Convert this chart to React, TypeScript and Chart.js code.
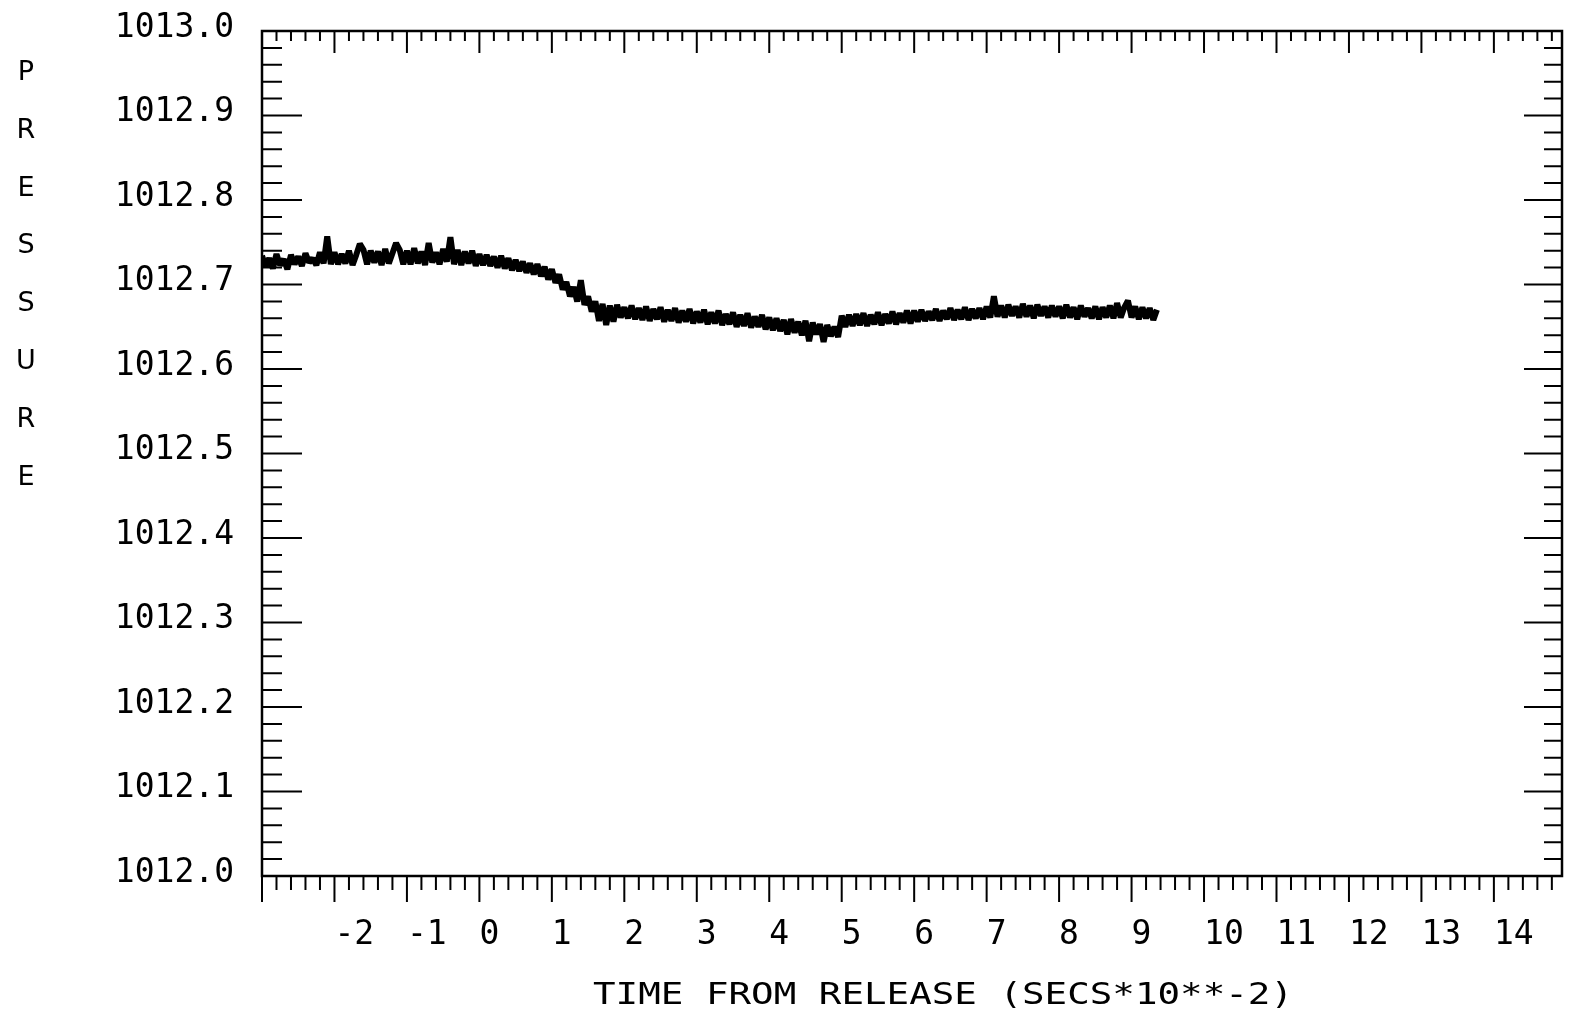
import { useEffect, useRef } from 'react';
import { Chart, registerables } from 'chart.js';

Chart.register(...registerables);

// Sampling of the pressure record: first sample time and spacing (units of 10^-2 s)
const T_START = -3.0;
const T_STEP = 0.05;

// Pressure readings, one per sample
const PRESSURE = [
  // -3.00 .. -2.05
  1012.734, 1012.721, 1012.731, 1012.719, 1012.736, 1012.723, 1012.730, 1012.718, 1012.735, 1012.724,
  1012.733, 1012.722, 1012.737, 1012.726, 1012.731, 1012.723, 1012.738, 1012.725, 1012.757, 1012.724,
  // -2.00 .. -1.05
  1012.738, 1012.724, 1012.736, 1012.725, 1012.740, 1012.723, 1012.735, 1012.748, 1012.741, 1012.724,
  1012.740, 1012.726, 1012.739, 1012.723, 1012.742, 1012.725, 1012.737, 1012.749, 1012.741, 1012.724,
  // -1.00 .. -0.05
  1012.740, 1012.724, 1012.743, 1012.725, 1012.739, 1012.723, 1012.749, 1012.726, 1012.738, 1012.724,
  1012.742, 1012.727, 1012.756, 1012.724, 1012.741, 1012.723, 1012.739, 1012.725, 1012.740, 1012.722,
  // 0.00 .. 0.95
  1012.736, 1012.723, 1012.735, 1012.722, 1012.733, 1012.720, 1012.734, 1012.719, 1012.731, 1012.717,
  1012.729, 1012.716, 1012.727, 1012.714, 1012.725, 1012.712, 1012.724, 1012.710, 1012.721, 1012.706,
  // 1.00 .. 1.95
  1012.718, 1012.702, 1012.712, 1012.694, 1012.703, 1012.686, 1012.697, 1012.680, 1012.705, 1012.676,
  1012.686, 1012.668, 1012.680, 1012.657, 1012.677, 1012.652, 1012.675, 1012.656, 1012.676, 1012.661,
  // 2.00 .. 2.95
  1012.673, 1012.660, 1012.675, 1012.659, 1012.672, 1012.658, 1012.674, 1012.657, 1012.671, 1012.659,
  1012.673, 1012.656, 1012.670, 1012.657, 1012.672, 1012.655, 1012.669, 1012.656, 1012.671, 1012.654,
  // 3.00 .. 3.95
  1012.668, 1012.655, 1012.670, 1012.653, 1012.667, 1012.654, 1012.669, 1012.652, 1012.665, 1012.653,
  1012.667, 1012.650, 1012.664, 1012.651, 1012.666, 1012.649, 1012.662, 1012.650, 1012.664, 1012.647,
  // 4.00 .. 4.95
  1012.661, 1012.646, 1012.660, 1012.645, 1012.658, 1012.641, 1012.659, 1012.643, 1012.656, 1012.640,
  1012.657, 1012.633, 1012.655, 1012.641, 1012.653, 1012.632, 1012.652, 1012.639, 1012.650, 1012.638,
  // 5.00 .. 5.95
  1012.663, 1012.650, 1012.664, 1012.651, 1012.665, 1012.652, 1012.666, 1012.651, 1012.664, 1012.653,
  1012.667, 1012.652, 1012.665, 1012.654, 1012.668, 1012.653, 1012.666, 1012.655, 1012.669, 1012.654,
  // 6.00 .. 6.95
  1012.669, 1012.656, 1012.670, 1012.657, 1012.668, 1012.658, 1012.671, 1012.657, 1012.669, 1012.659,
  1012.672, 1012.658, 1012.670, 1012.659, 1012.673, 1012.658, 1012.671, 1012.660, 1012.672, 1012.659,
  // 7.00 .. 7.95
  1012.674, 1012.661, 1012.686, 1012.662, 1012.675, 1012.661, 1012.676, 1012.663, 1012.674, 1012.661,
  1012.677, 1012.662, 1012.675, 1012.660, 1012.676, 1012.663, 1012.674, 1012.661, 1012.675, 1012.662,
  // 8.00 .. 8.95
  1012.674, 1012.660, 1012.676, 1012.661, 1012.673, 1012.659, 1012.675, 1012.662, 1012.672, 1012.660,
  1012.674, 1012.659, 1012.673, 1012.661, 1012.675, 1012.660, 1012.678, 1012.661, 1012.673, 1012.681,
  // 9.00 .. 9.35
  1012.661, 1012.674, 1012.659, 1012.673, 1012.660, 1012.672, 1012.658, 1012.670,
];

// Tick labels
const X_TICK_LABELS = ['-2', '-1', '0', '1', '2', '3', '4', '5', '6', '7', '8', '9', '10', '11', '12', '13', '14'];
const Y_TICK_LABELS = [
  '1012.0', '1012.1', '1012.2', '1012.3', '1012.4', '1012.5',
  '1012.6', '1012.7', '1012.8', '1012.9', '1013.0',
];

// Axis extents and tick-mark spacing
const X_MIN = -3;
const X_MAX = 14.94;
const X_MAJOR = 1;
const X_MINOR = 0.2;
const Y_MIN = 1012.0;
const Y_MAX = 1013.0;
const Y_MAJOR = 0.1;
const Y_MINOR = 0.02;

const X_TITLE = 'TIME FROM RELEASE (SECS*10**-2)';
const Y_TITLE = 'PRESSURE';

const MONO = '"DejaVu Sans Mono", monospace';
const INK = '#000';

// Plotter-style box with inward ticks on left/right/top and outward ticks below,
// plus the axis captions.
const plotterFrame = {
  id: 'plotterFrame',
  afterDraw(chart: any) {
    const { ctx, chartArea, scales } = chart;
    const { left, right, top, bottom } = chartArea;
    const xs = scales.x;
    const ys = scales.y;
    ctx.save();
    ctx.strokeStyle = INK;
    ctx.lineCap = 'butt';
    ctx.lineWidth = 2;
    ctx.beginPath();
    const perMajorX = Math.round(X_MAJOR / X_MINOR);
    const kx0 = Math.ceil(X_MIN / X_MINOR - 1e-9);
    const kx1 = Math.floor(X_MAX / X_MINOR + 1e-9);
    for (let k = kx0; k <= kx1; k++) {
      const px = xs.getPixelForValue(k * X_MINOR);
      const major = k % perMajorX === 0;
      ctx.moveTo(px, bottom);
      ctx.lineTo(px, bottom + (major ? 26 : 14));
      ctx.moveTo(px, top);
      ctx.lineTo(px, top + (major ? 22 : 10));
    }
    const perMajorY = Math.round(Y_MAJOR / Y_MINOR);
    const ny = Math.round((Y_MAX - Y_MIN) / Y_MINOR);
    for (let k = 0; k <= ny; k++) {
      const py = ys.getPixelForValue(Y_MIN + k * Y_MINOR);
      const major = k % perMajorY === 0;
      ctx.moveTo(left, py);
      ctx.lineTo(left + (major ? 40 : 20), py);
      ctx.moveTo(right, py);
      ctx.lineTo(right - (major ? 38 : 18), py);
    }
    ctx.stroke();
    ctx.lineWidth = 2.5;
    ctx.strokeRect(left, top, right - left, bottom - top);

    // x caption, drawn in a wide plotter lettering
    ctx.fillStyle = INK;
    ctx.font = `31px ${MONO}`;
    ctx.textAlign = 'center';
    ctx.textBaseline = 'middle';
    const w = ctx.measureText(X_TITLE).width;
    ctx.save();
    ctx.translate(943, 996);
    ctx.scale(700 / w, 1);
    ctx.fillText(X_TITLE, 0, 0);
    ctx.restore();

    // y caption, one letter per row
    ctx.font = `27px "DejaVu Sans", sans-serif`;
    Y_TITLE.split('').forEach((ch, i) => {
      ctx.fillText(ch, 26, 73 + i * 57.8);
    });
    ctx.restore();
  },
};

export default function App() {
  const canvasRef = useRef<HTMLCanvasElement>(null);

  useEffect(() => {
    const canvas = canvasRef.current;
    if (!canvas) return;
    const points = PRESSURE.map((p, i) => ({ x: T_START + i * T_STEP, y: p }));
    const chart = new Chart(canvas, {
      type: 'line',
      data: {
        datasets: [
          {
            label: 'Pressure',
            data: points,
            borderColor: INK,
            borderWidth: 6,
            borderJoinStyle: 'bevel',
            pointRadius: 0,
            tension: 0,
            fill: false,
          },
        ],
      },
      options: {
        responsive: false,
        devicePixelRatio: 1,
        animation: false,
        layout: { padding: { top: 31, right: 12, left: 0, bottom: 0 } },
        plugins: {
          legend: { display: false },
          tooltip: { enabled: false },
        },
        scales: {
          x: {
            type: 'linear',
            min: X_MIN,
            max: X_MAX,
            afterBuildTicks: (s: any) => {
              s.ticks = X_TICK_LABELS.map((t) => ({ value: Number(t) }));
            },
            afterFit: (s: any) => {
              s.height = 141;
              s.paddingLeft = 0;
              s.paddingRight = 0;
            },
            grid: { display: false, drawTicks: false },
            border: { display: false },
            ticks: {
              autoSkip: false,
              maxRotation: 0,
              align: 'start',
              padding: 40,
              color: INK,
              font: { family: MONO, size: 33 },
              callback: (v: any) => String(v),
            },
          },
          y: {
            type: 'linear',
            min: Y_MIN,
            max: Y_MAX,
            afterBuildTicks: (s: any) => {
              s.ticks = Y_TICK_LABELS.map((t) => ({ value: Number(t) }));
            },
            afterFit: (s: any) => {
              s.width = 262;
              s.paddingTop = 0;
              s.paddingBottom = 0;
            },
            grid: { display: false, drawTicks: false },
            border: { display: false },
            ticks: {
              autoSkip: false,
              padding: 28,
              labelOffset: -3,
              color: INK,
              font: { family: MONO, size: 33 },
              callback: (v: any) => Number(v).toFixed(1),
            },
          },
        },
      },
      plugins: [plotterFrame],
    });
    return () => chart.destroy();
  }, []);

  return (
    <div
      style={{
        position: 'absolute',
        left: 0,
        top: 0,
        width: 1574,
        height: 1017,
        background: '#fff',
      }}
    >
      <canvas ref={canvasRef} width={1574} height={1017} style={{ display: 'block' }} />
    </div>
  );
}
